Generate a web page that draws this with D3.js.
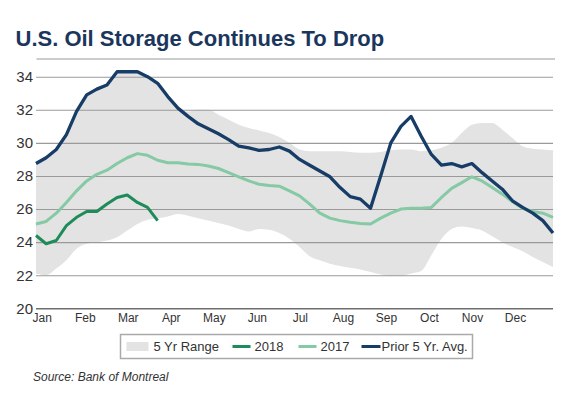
<!DOCTYPE html>
<html>
<head>
<meta charset="utf-8">
<script src="https://cdn.jsdelivr.net/npm/d3@7"></script>
<style>
  body { margin: 0; background: #fff; }
  svg { display: block; font-family: "Liberation Sans", Arial, sans-serif; }
</style>
</head>
<body>
<div id="chart"></div>
<script>
// weekly values, million barrels
const months = ["Jan", "Feb", "Mar", "Apr", "May", "Jun", "Jul", "Aug", "Sep", "Oct", "Nov", "Dec"];
const yTicks = [20, 22, 24, 26, 28, 30, 32, 34];

const rangeHigh = [28.8, 29.2, 29.6, 30.5, 32.0, 32.9, 33.3, 33.5, 34.3, 34.3, 34.3, 34.0, 33.6,
  32.8, 32.1, 31.9, 32.0, 32.0, 31.7, 31.4, 31.1, 30.9, 30.75, 30.6, 30.35, 30.0, 29.6, 29.5,
  29.5, 29.5, 29.5, 29.45, 29.4, 29.4, 29.45, 29.55, 29.6, 29.6, 29.5, 29.55, 29.7, 30.0, 30.6,
  31.1, 31.2, 31.2, 30.8, 30.3, 29.8, 29.65, 29.6, 29.55];
const rangeLow = [22.1, 22.0, 22.4, 22.9, 23.6, 23.9, 24.0, 24.1, 24.3, 24.7, 25.1, 25.35, 25.45,
  25.55, 25.7, 25.6, 25.45, 25.3, 25.15, 25.0, 24.8, 24.65, 24.8, 24.75, 24.55, 24.2, 23.7, 23.15,
  22.9, 22.7, 22.55, 22.45, 22.35, 22.2, 22.05, 21.95, 21.95, 22.1, 22.25, 23.2, 24.2, 24.8, 24.95,
  24.85, 24.7, 24.35, 24.0, 23.7, 23.45, 23.1, 22.8, 22.5];
const y2018 = [24.4, 23.9, 24.1, 25.0, 25.5, 25.85, 25.85, 26.3, 26.7, 26.85, 26.4, 26.1, 25.3];
const y2017 = [25.1, 25.25, 25.75, 26.4, 27.1, 27.7, 28.1, 28.35, 28.75, 29.1, 29.35, 29.25, 28.95,
  28.8, 28.8, 28.72, 28.7, 28.6, 28.45, 28.2, 27.95, 27.7, 27.5, 27.42, 27.38, 27.1, 26.8, 26.3,
  25.75, 25.45, 25.3, 25.2, 25.12, 25.1, 25.45, 25.75, 26.0, 26.05, 26.05, 26.1, 26.7, 27.25, 27.6,
  27.95, 27.7, 27.3, 26.9, 26.45, 26.05, 25.85, 25.75, 25.5];
const prior5yr = [28.75, 29.1, 29.6, 30.5, 31.9, 32.9, 33.25, 33.5, 34.3, 34.3, 34.3, 34.0, 33.6,
  32.8, 32.1, 31.6, 31.15, 30.85, 30.55, 30.2, 29.8, 29.7, 29.55, 29.6, 29.75, 29.5, 29.0, 28.65,
  28.3, 27.95, 27.3, 26.75, 26.6, 26.05, 28.0, 30.0, 31.0, 31.6, 30.4, 29.3, 28.65, 28.75, 28.55,
  28.75, 28.2, 27.7, 27.2, 26.5, 26.1, 25.75, 25.3, 24.55];

const W = 570, H = 398;
const plot = { left: 36, right: 553, top: 76.7, bottom: 308.3 };

const svg = d3.select("#chart").append("svg")
  .attr("width", W)
  .attr("height", H);

// title + rule
svg.append("text")
  .attr("x", 15.5)
  .attr("y", 45.5)
  .attr("fill", "#1b365d")
  .style("font-size", "22px")
  .style("font-weight", "bold")
  .text("U.S. Oil Storage Continues To Drop");
svg.append("line")
  .attr("x1", 36.5).attr("x2", 555)
  .attr("y1", 59).attr("y2", 59)
  .attr("stroke", "#999")
  .attr("stroke-width", 1.2);

const x = d3.scaleLinear().domain([0, prior5yr.length - 1]).range([plot.left, plot.right]);
const y = d3.scaleLinear().domain([20, 34]).range([plot.bottom, plot.top]);

// 5 yr range band
const band = d3.area()
  .x((d, i) => x(i))
  .y0((d, i) => y(rangeLow[i]))
  .y1(d => y(d))
  .curve(d3.curveMonotoneX);
svg.append("path")
  .datum(rangeHigh)
  .attr("d", band)
  .attr("fill", "#e3e3e3");

// gridlines + y labels
const yAxis = svg.append("g")
  .attr("class", "y axis")
  .attr("transform", `translate(${plot.left},0)`)
  .call(d3.axisLeft(y).tickValues(yTicks).tickSize(-(plot.right - plot.left)).tickPadding(3));
yAxis.select("path.domain").remove();
yAxis.selectAll(".tick line")
  .attr("stroke", d => d === 20 ? "#6e6e6e" : "#9a9a9a")
  .attr("stroke-width", d => d === 20 ? 1.6 : 1.1);
yAxis.selectAll(".tick text")
  .attr("fill", "#333")
  .style("font-size", "15px")
  .style("font-family", "'Liberation Sans', Arial, sans-serif");

// month labels
const xm = d3.scalePoint().domain(months).range([41.7, 515]);
const xAxis = svg.append("g")
  .attr("transform", `translate(0,${plot.bottom + 3})`)
  .call(d3.axisBottom(xm).tickSize(0).tickPadding(2));
xAxis.select("path.domain").remove();
xAxis.selectAll(".tick text")
  .attr("fill", "#333")
  .style("font-size", "12px")
  .style("font-family", "'Liberation Sans Narrow', 'Liberation Sans', Arial, sans-serif");

// series lines
const line = d3.line()
  .x((d, i) => x(i))
  .y(d => y(d));
const series = [
  { name: "2017", values: y2017, color: "#85c9a5", width: 3 },
  { name: "2018", values: y2018, color: "#1e8b5b", width: 3 },
  { name: "Prior 5 Yr. Avg.", values: prior5yr, color: "#173d67", width: 3.3 }
];
svg.selectAll("path.series")
  .data(series)
  .join("path")
  .attr("class", "series")
  .attr("d", d => line(d.values))
  .attr("fill", "none")
  .attr("stroke", d => d.color)
  .attr("stroke-width", d => d.width)
  .attr("stroke-linejoin", "round");

// legend
const lg = svg.append("g").attr("transform", "translate(120.5,334.5)");
lg.append("rect")
  .attr("width", 352).attr("height", 24)
  .attr("fill", "#fff")
  .attr("stroke", "#aaa")
  .attr("stroke-width", 1.5);
const legendItems = [
  { label: "5 Yr Range", color: "#e3e3e3", swatch: "box", x: 6, w: 22, tx: 33 },
  { label: "2018", color: "#1e8b5b", swatch: "line", x: 112, w: 18, tx: 134 },
  { label: "2017", color: "#85c9a5", swatch: "line", x: 178, w: 18, tx: 200 },
  { label: "Prior 5 Yr. Avg.", color: "#173d67", swatch: "line", x: 241, w: 19, tx: 261 }
];
const li = lg.selectAll("g.item").data(legendItems).join("g").attr("class", "item");
li.filter(d => d.swatch === "box").append("rect")
  .attr("x", d => d.x).attr("y", 7.5)
  .attr("width", d => d.w).attr("height", 9)
  .attr("fill", d => d.color);
li.filter(d => d.swatch === "line").append("line")
  .attr("x1", d => d.x).attr("x2", d => d.x + d.w)
  .attr("y1", 12).attr("y2", 12)
  .attr("stroke", d => d.color)
  .attr("stroke-width", 3);
li.append("text")
  .attr("x", d => d.tx)
  .attr("y", 16.5)
  .attr("fill", "#333")
  .style("font-size", "13px")
  .text(d => d.label);

svg.append("text")
  .attr("x", 33)
  .attr("y", 381)
  .attr("fill", "#333")
  .style("font-size", "12px")
  .style("font-style", "italic")
  .text("Source: Bank of Montreal");
</script>
</body>
</html>
